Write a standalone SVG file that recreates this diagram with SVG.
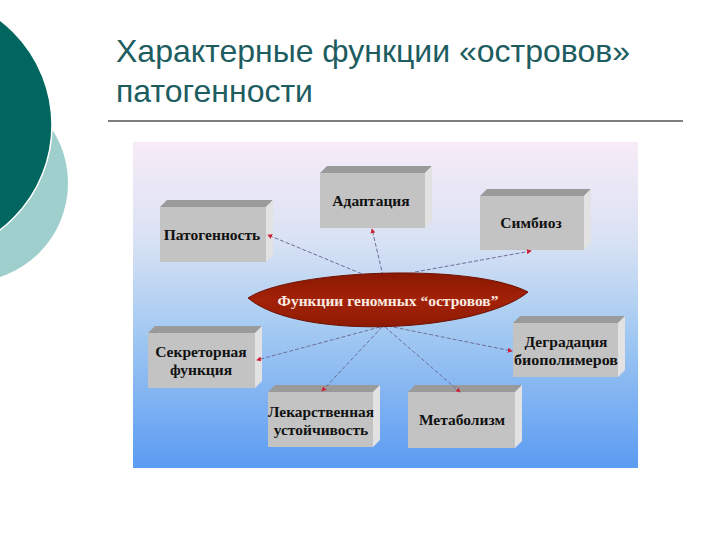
<svg xmlns="http://www.w3.org/2000/svg" width="720" height="540" viewBox="0 0 720 540">
<defs>
<linearGradient id="bg" x1="0" y1="0" x2="0" y2="1">
<stop offset="0" stop-color="#f7ebf6"/>
<stop offset="0.3" stop-color="#d9e2f4"/>
<stop offset="0.55" stop-color="#a9cdf2"/>
<stop offset="1" stop-color="#5b9bf2"/>
</linearGradient>
<linearGradient id="ell" x1="0" y1="0" x2="0" y2="1">
<stop offset="0" stop-color="#8a1802"/>
<stop offset="0.5" stop-color="#a32207"/>
<stop offset="1" stop-color="#8e1a03"/>
</linearGradient>
<marker id="arr" viewBox="0 0 6 6" refX="5" refY="3" markerWidth="5" markerHeight="5" orient="auto" markerUnits="userSpaceOnUse">
<path d="M0,0 L6,3 L0,6 Z" fill="#d0203a"/>
</marker>
<style>
.title{font-family:"Liberation Sans",Arial,sans-serif;font-size:32px;fill:#1d5d5f}
.front{fill:#c3c3c3}
.top{fill:#9a9a9a}
.side{fill:#e2e2e2}
.lbl{font-family:"Liberation Serif","Times New Roman",serif;font-weight:bold;font-size:15.5px;fill:#111;text-anchor:middle}
.con{stroke:#6e6f96;stroke-width:1;stroke-dasharray:4 2;fill:none;marker-end:url(#arr)}
</style>
</defs>
<rect width="720" height="540" fill="#ffffff"/>
<circle cx="-31" cy="183" r="99" fill="#9fcfcc"/>
<circle cx="-80" cy="125" r="132" fill="#00665f" stroke="#ffffff" stroke-width="1.5"/>
<text class="title" x="116" y="62">Характерные функции «островов»</text>
<text class="title" x="116" y="102">патогенности</text>
<line x1="108" y1="121" x2="683" y2="121" stroke="#000" stroke-width="1.2"/>
<rect x="133" y="142" width="505" height="326" fill="url(#bg)"/>
<g id="patogen">
<polygon class="top" points="160,207 167,200 273,200 266,207"/>
<polygon class="side" points="266,207 273,200 273,255 266,262"/>
<rect class="front" x="160" y="207" width="106" height="55"/>
<text class="lbl" x="212" y="240">Патогенность</text>
</g>
<g id="adapt">
<polygon class="top" points="320,173 327,166 432,166 425,173"/>
<polygon class="side" points="425,173 432,166 432,221 425,228"/>
<rect class="front" x="320" y="173" width="105" height="55"/>
<text class="lbl" x="371" y="206">Адаптация</text>
</g>
<g id="simbioz">
<polygon class="top" points="480,196 487,189 591,189 584,196"/>
<polygon class="side" points="584,196 591,189 591,243 584,250"/>
<rect class="front" x="480" y="196" width="104" height="54"/>
<text class="lbl" x="531" y="228">Симбиоз</text>
</g>
<g id="sekret">
<polygon class="top" points="148,333 155,326 262,326 255,333"/>
<polygon class="side" points="255,333 262,326 262,381 255,388"/>
<rect class="front" x="148" y="333" width="107" height="55"/>
<text class="lbl" x="201" y="357">Секреторная</text>
<text class="lbl" x="201" y="375">функция</text>
</g>
<g id="lekarstv">
<polygon class="top" points="268,392 275,385 380,385 373,392"/>
<polygon class="side" points="373,392 380,385 380,440 373,447"/>
<rect class="front" x="268" y="392" width="105" height="55"/>
<text class="lbl" x="321" y="417" textLength="106" lengthAdjust="spacingAndGlyphs">Лекарственная</text>
<text class="lbl" x="321" y="435">устойчивость</text>
</g>
<g id="metabol">
<polygon class="top" points="408,392 415,385 522,385 515,392"/>
<polygon class="side" points="515,392 522,385 522,441 515,448"/>
<rect class="front" x="408" y="392" width="107" height="56"/>
<text class="lbl" x="462" y="425">Метаболизм</text>
</g>
<g id="degrad">
<polygon class="top" points="513,323 520,316 625,316 618,323"/>
<polygon class="side" points="618,323 625,316 625,370 618,377"/>
<rect class="front" x="513" y="323" width="105" height="54"/>
<text class="lbl" x="566" y="347">Деградация</text>
<text class="lbl" x="566" y="365" textLength="104" lengthAdjust="spacingAndGlyphs">биополимеров</text>
</g>
<g id="connectors">
<line class="con" x1="367" y1="276" x2="268" y2="235"/>
<line class="con" x1="383" y1="276" x2="372" y2="229"/>
<line class="con" x1="415" y1="272" x2="531" y2="251"/>
<line class="con" x1="380" y1="327" x2="257" y2="360"/>
<line class="con" x1="382" y1="327" x2="322" y2="391"/>
<line class="con" x1="385" y1="327" x2="460" y2="392"/>
<line class="con" x1="388" y1="326" x2="512" y2="351"/>
</g>
<g id="center">
<path d="M248,298 C290,270 470,262 528,292 C480,332 300,342 248,298 Z" fill="url(#ell)" stroke="#6e1203" stroke-width="1"/>
<text x="388" y="306" font-family="Liberation Serif,Times New Roman,serif" font-weight="bold" font-size="15.5" fill="#fbeae2" text-anchor="middle">Функции геномных “островов”</text>
</g>
</svg>
